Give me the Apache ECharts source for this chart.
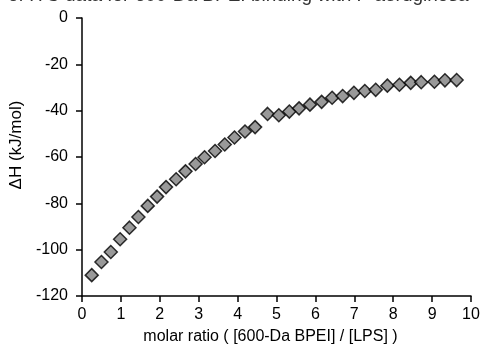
<!DOCTYPE html>
<html>
<head>
<meta charset="utf-8">
<script src="https://cdn.jsdelivr.net/npm/echarts@6/dist/echarts.min.js"></script>
<style>
  html, body { margin: 0; padding: 0; background: #fff; }
  #chart { width: 481px; height: 346px; }
</style>
</head>
<body>
<div id="chart"></div>
<script>
// molar ratio vs heat per injection
const molarRatio = [
  0.25, 0.50, 0.74, 0.98, 1.22, 1.45, 1.69, 1.93, 2.16, 2.42,
  2.66, 2.92, 3.15, 3.42, 3.67, 3.92, 4.19, 4.45,
  4.77, 5.06, 5.33, 5.58, 5.86, 6.16, 6.43, 6.70, 6.99, 7.27,
  7.55, 7.85, 8.16, 8.45, 8.72, 9.06, 9.33, 9.63
];
const deltaH = [
  -111.0, -105.3, -101.0, -95.5, -90.5, -85.9, -81.1, -77.1, -73.0, -69.6,
  -66.2, -63.0, -60.1, -57.4, -54.6, -51.6, -49.0, -47.1,
  -41.4, -42.0, -40.4, -39.0, -37.4, -36.2, -34.4, -33.7, -32.3, -31.5,
  -31.0, -29.2, -28.8, -28.0, -27.7, -27.5, -26.9, -26.8
];
const titleText = 'of ITC data for 600-Da BPEI binding with P aeruginosa';
const xName = 'molar ratio ( [600-Da BPEI] / [LPS] )';
const yName = 'ΔH (kJ/mol)';

const font = 'Liberation Sans, Arial, sans-serif';
const chart = echarts.init(document.getElementById('chart'), null, { renderer: 'canvas' });

const axisCommon = {
  axisLine: { onZero: false, lineStyle: { color: '#000', width: 1.5 } },
  axisTick: { inside: false, length: 6, lineStyle: { color: '#000', width: 1.5 } },
  splitLine: { show: false },
  axisLabel: { color: '#000', fontFamily: font, fontSize: 16 }
};

chart.setOption({
  animation: false,
  backgroundColor: '#fff',
  graphic: [{
    type: 'text',
    left: 8,
    top: -14,
    style: { text: titleText, fill: '#333', font: '19px ' + font }
  }],
  grid: { left: 82, right: 10, top: 18, bottom: 50, containLabel: false, outerBoundsMode: 'none' },
  xAxis: Object.assign({}, axisCommon, {
    type: 'value',
    min: 0, max: 10, interval: 1,
    name: xName,
    nameLocation: 'middle',
    nameGap: 33,
    nameTextStyle: { color: '#000', fontFamily: font, fontSize: 16, padding: [0, 12, 0, 0] },
    axisLabel: Object.assign({}, axisCommon.axisLabel, { margin: 11 })
  }),
  yAxis: Object.assign({}, axisCommon, {
    type: 'value',
    min: -120, max: 0, interval: 20,
    name: yName,
    nameLocation: 'middle',
    nameGap: 46,
    nameTextStyle: { color: '#000', fontFamily: font, fontSize: 17, padding: [0, 0, 0, 24] },
    axisLabel: Object.assign({}, axisCommon.axisLabel, { margin: 14 })
  }),
  series: [{
    type: 'scatter',
    data: molarRatio.map((x, i) => [x, deltaH[i]]),
    symbol: 'diamond',
    symbolSize: [13, 13],
    itemStyle: { color: '#808080', borderColor: '#000', borderWidth: 1.5 }
  }]
});
</script>
</body>
</html>
